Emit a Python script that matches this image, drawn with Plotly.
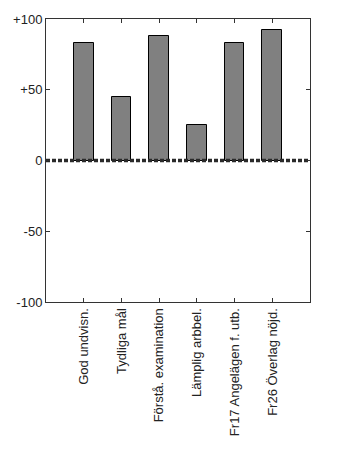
import plotly.graph_objects as go

categories = ["God undvisn.", "Tydliga mål", "Förstå. examination", "Lämplig arbbel.",
              "Fr17 Angelägen f. utb.", "Fr26 Överlag nöjd."]
values = [83, 45, 88, 25, 83, 92]
ytick_vals = [-100, -50, 0, 50, 100]
ytick_text = ["-100", "-50", "0", "+50", "+100"]

xpos = list(range(1, len(categories) + 1))

fig = go.Figure()
fig.add_trace(go.Bar(
    x=xpos, y=values, width=0.52,
    marker=dict(color="#808080", line=dict(color="black", width=1)),
    showlegend=False, hoverinfo="skip",
))
fig.add_trace(go.Scatter(
    x=[0, len(categories) + 1], y=[0, 0], mode="lines",
    line=dict(color="#2a2a2a", width=3.5, dash="4px,2px"),
    showlegend=False, hoverinfo="skip",
))

fig.update_layout(
    width=354, height=472,
    margin=dict(l=46, r=44, t=17, b=170),
    paper_bgcolor="white", plot_bgcolor="white",
    font=dict(family="Liberation Sans, Arial, sans-serif", size=13, color="#222222"),
    xaxis=dict(
        range=[0, len(categories) + 1],
        tickvals=xpos, ticktext=categories, tickangle=-90,
        ticks="inside", ticklen=4, tickcolor="#333333",
        showline=True, linecolor="#333333", linewidth=1, mirror="ticks",
        showgrid=False, zeroline=False,
        tickfont=dict(size=13),
    ),
    yaxis=dict(
        range=[-100, 100],
        tickvals=ytick_vals, ticktext=ytick_text,
        ticks="inside", ticklen=4, tickcolor="#333333",
        showline=True, linecolor="#333333", linewidth=1, mirror="ticks",
        showgrid=False, zeroline=False,
        tickfont=dict(size=13),
    ),
    bargap=0,
)

fig.write_html("out.html")
